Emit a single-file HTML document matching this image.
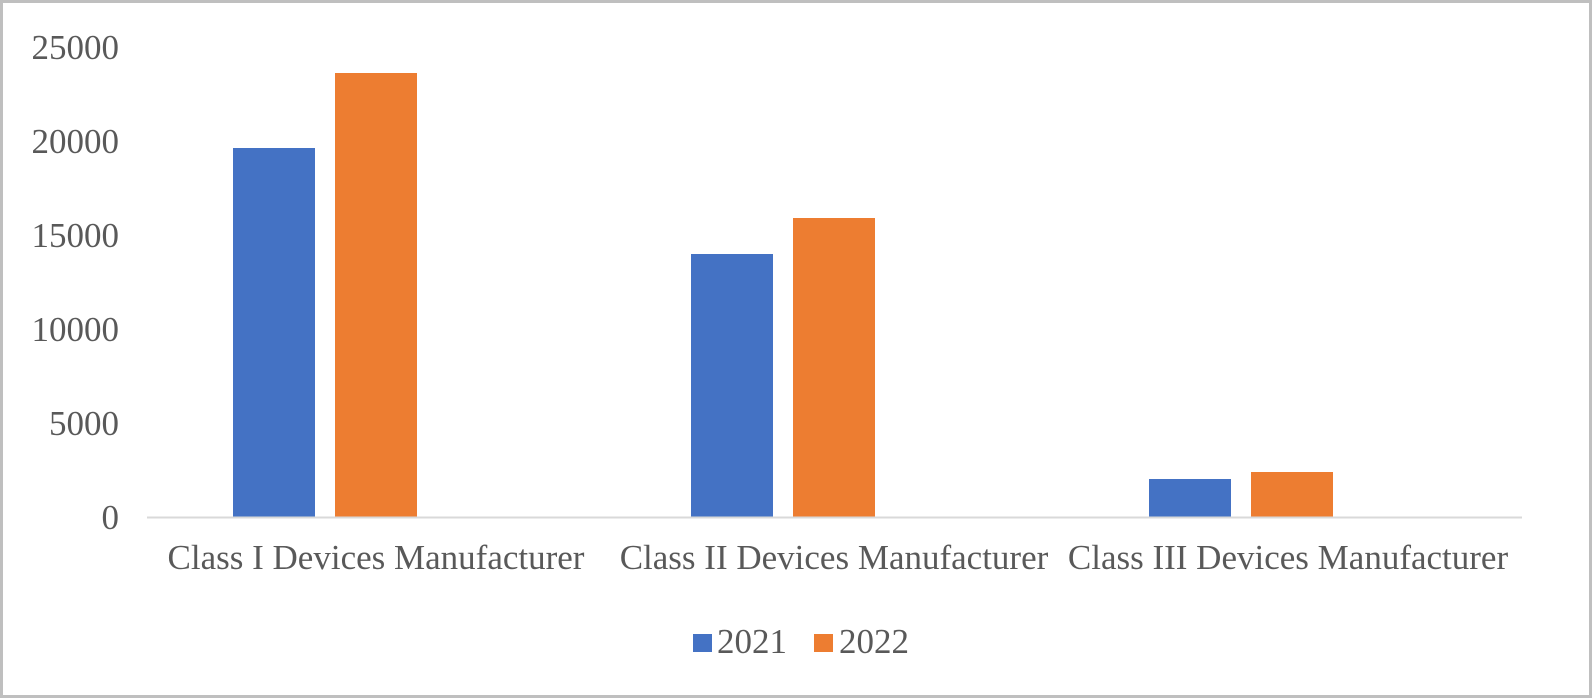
<!DOCTYPE html>
<html><head><meta charset="utf-8"><style>
html,body{margin:0;padding:0;background:#fff;}
svg{display:block;}
text{font-family:"Liberation Serif",serif;fill:#595959;font-size:35px;}
</style></head><body>
<svg width="1592" height="698" xmlns="http://www.w3.org/2000/svg">
<rect x="1.5" y="1.5" width="1589" height="695" fill="#fff" stroke="#bfbfbf" stroke-width="3"/>
<g text-anchor="end">
<text x="119" y="59">25000</text>
<text x="119" y="153">20000</text>
<text x="119" y="247">15000</text>
<text x="119" y="341">10000</text>
<text x="119" y="435">5000</text>
<text x="119" y="529">0</text>
</g>
<rect x="233" y="148" width="82" height="369" fill="#4472c4"/>
<rect x="335" y="73" width="82" height="444" fill="#ed7d31"/>
<rect x="691" y="254" width="82" height="263" fill="#4472c4"/>
<rect x="793" y="218" width="82" height="299" fill="#ed7d31"/>
<rect x="1149" y="479" width="82" height="38" fill="#4472c4"/>
<rect x="1251" y="472" width="82" height="45" fill="#ed7d31"/>
<line x1="147" y1="517.5" x2="1522" y2="517.5" stroke="#d9d9d9" stroke-width="2"/>
<g text-anchor="middle">
<text x="376" y="569">Class I Devices Manufacturer</text>
<text x="834" y="569">Class II Devices Manufacturer</text>
<text x="1288" y="569">Class III Devices Manufacturer</text>
</g>
<rect x="693" y="634" width="19" height="18" fill="#4472c4"/>
<text x="717" y="653">2021</text>
<rect x="814" y="634" width="19" height="18" fill="#ed7d31"/>
<text x="839" y="653">2022</text>
</svg>
</body></html>
